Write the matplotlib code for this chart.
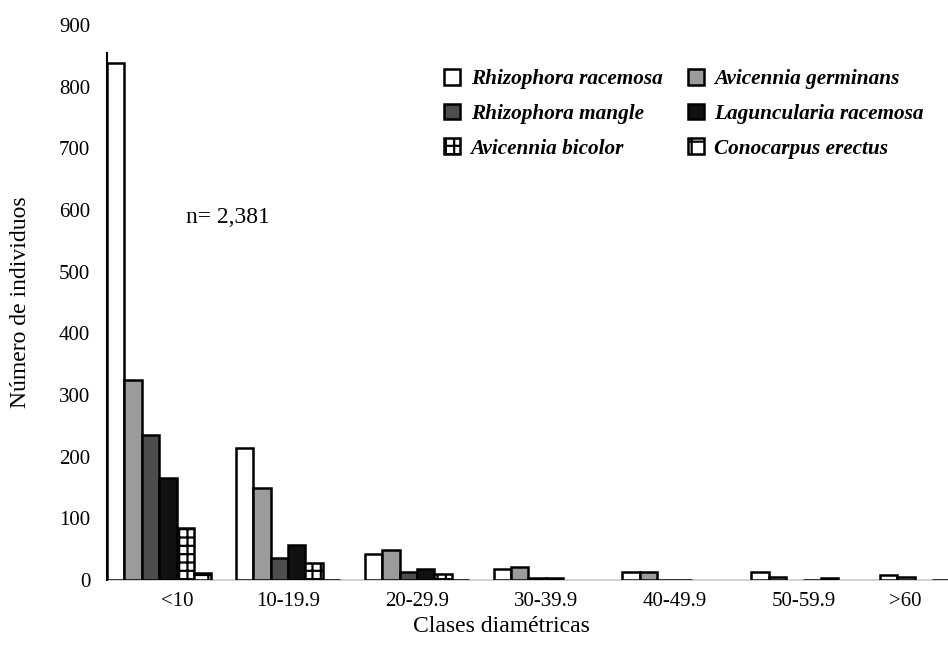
import numpy as np
import matplotlib
matplotlib.use('Agg')
import matplotlib.pyplot as plt

plt.rcParams['font.family'] = ['Liberation Serif', 'DejaVu Serif']
plt.rcParams['hatch.linewidth'] = 1.6

nan = np.nan
categories = ['<10', '10-19.9', '20-29.9', '30-39.9', '40-49.9', '50-59.9', '>60']
species = ['Rhizophora racemosa', 'Avicennia germinans', 'Rhizophora mangle',
           'Laguncularia racemosa', 'Avicennia bicolor', 'Conocarpus erectus']
r_racemosa = [839, 214, 42, 18, 13, 13, 8]
a_germinans = [324, 149, 49, 21, 13, 5, 5]
r_mangle = [235, 36, 13, 4, 0, nan, nan]
l_racemosa = [165, 57, 18, 3, 0, 0, 0]
a_bicolor = [84, 28, 9, nan, nan, 4, nan]
c_erectus = [11, 0, 0, nan, nan, nan, nan]
series = [r_racemosa, a_germinans, r_mangle, l_racemosa, a_bicolor, c_erectus]

fills = ['white', '#9b9b9b', '#4d4d4d', '#111111', 'white', 'white']
hatches = [None, None, None, None, '++', '+']

fig = plt.figure(figsize=(9.48, 6.53), dpi=100)
ax = fig.add_axes([107 / 948, 73 / 653, 841 / 948, 555 / 653])

x = np.arange(len(categories))
w = 1 / 7.4
handles = []
for i, (vals, name) in enumerate(zip(series, species)):
    offs = (i - 2.5) * w
    b = ax.bar(x + offs, vals, w, color=fills[i], edgecolor='black',
               linewidth=1.8, hatch=hatches[i], label=name, zorder=3)
    handles.append(b)

ax.set_xlim(-3 * w, 6.122)
ax.set_ylim(0, 900)
ax.set_yticks(np.arange(0, 901, 100))
# the first and last labels sit a little off their group centre in the original
label_shift = np.array([0.14, 0, 0, 0, 0, 0, -0.21])
ax.set_xticks(x + label_shift)
ax.set_xticklabels(categories)
ax.tick_params(axis='y', length=0, pad=12, labelsize=15)
ax.tick_params(axis='x', length=0, pad=9, labelsize=15)

for s in ['top', 'right']:
    ax.spines[s].set_visible(False)
ax.spines['left'].set_bounds(0, 855)
ax.spines['left'].set_linewidth(1.5)
ax.spines['bottom'].set_color('#c8c8c8')
ax.spines['bottom'].set_linewidth(1.2)
ax.spines['bottom'].set_zorder(1)

ax.set_ylabel('Número de individuos', fontsize=17, labelpad=20)
ax.set_xlabel('Clases diamétricas', fontsize=17)
ax.xaxis.set_label_coords((501 - 107) / 841, -0.064)

ax.text(0.21, 588, 'n= 2,381', fontsize=17, ha='left', va='center')

order = [0, 2, 4, 1, 3, 5]
ax.legend([handles[k] for k in order], [species[k] for k in order],
          ncol=2, loc='upper left', bbox_to_anchor=(0.378, 0.955), frameon=False,
          prop={'style': 'italic', 'weight': 'bold', 'size': 15.3},
          handlelength=0.75, handleheight=0.75, handletextpad=0.5,
          columnspacing=1.2, labelspacing=0.68)

fig.savefig('out.png', dpi=100)
